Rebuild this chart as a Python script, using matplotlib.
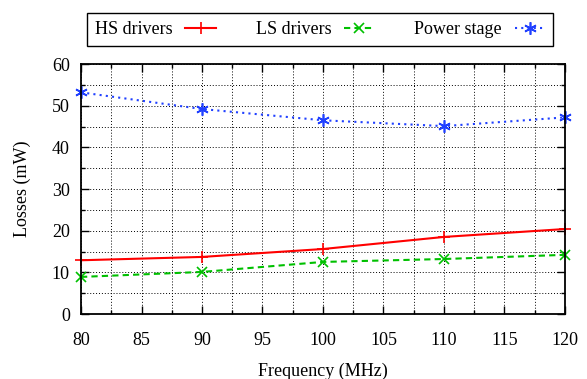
import matplotlib
matplotlib.use('Agg')
import matplotlib.pyplot as plt
from matplotlib.ticker import MultipleLocator

plt.rcParams['font.family'] = ['Liberation Serif', 'DejaVu Serif']
plt.rcParams['font.size'] = 13

# Data
freq = [80, 90, 100, 110, 120]
hs_drivers = [12.9, 13.7, 15.6, 18.5, 20.4]
ls_drivers = [8.9, 10.1, 12.5, 13.2, 14.2]
power_stage = [53.2, 49.2, 46.5, 45.1, 47.2]

fig = plt.figure(figsize=(5.87, 3.79), dpi=100)
ax = fig.add_axes([0.138, 0.1715, 0.8245, 0.6595])

ax.plot(freq, hs_drivers, color='#ff0000', linestyle='-', linewidth=1.5,
        marker='+', markersize=9, markeredgewidth=1.2, label='HS drivers', clip_on=False)
ax.plot(freq, ls_drivers, color='#00c000', linestyle=(0, (3, 2)), linewidth=1.5,
        marker='x', markersize=6.5, markeredgewidth=1.2, label='LS drivers', clip_on=False)
ax.plot(freq, power_stage, color='#2040ff', linestyle=(0, (1, 2)), linewidth=1.5,
        marker=(6, 2, 0), markersize=9, markeredgewidth=1.2, label='Power stage', clip_on=False)

ax.set_xlim(80, 120)
ax.set_ylim(0, 60)
ax.xaxis.set_major_locator(MultipleLocator(5))
ax.xaxis.set_minor_locator(MultipleLocator(2.5))
ax.yaxis.set_major_locator(MultipleLocator(10))
ax.yaxis.set_minor_locator(MultipleLocator(5))
ax.tick_params(which='both', direction='in', top=True, right=True, width=1)
ax.tick_params(which='major', length=6)
ax.tick_params(axis='x', which='major', pad=13)
ax.tick_params(axis='y', which='major', pad=8)
ax.tick_params(which='minor', length=3)
ax.grid(which='both', color='black', linestyle=(0, (1, 2)), linewidth=0.7)
for s in ax.spines.values():
    s.set_linewidth(1.3)

ax.set_xlabel('Frequency (MHz)', labelpad=10)
ax.set_ylabel('Losses (mW)', labelpad=15)

leg = fig.legend(loc='center', bbox_to_anchor=(0.5455, 0.922), ncol=3,
                 markerfirst=False, fancybox=False, edgecolor='black',
                 framealpha=1, handlelength=1.7, handletextpad=0.7,
                 columnspacing=2.2, borderpad=0.45, borderaxespad=0)
leg.get_frame().set_linewidth(1)

fig.savefig('out.png', dpi=100)
